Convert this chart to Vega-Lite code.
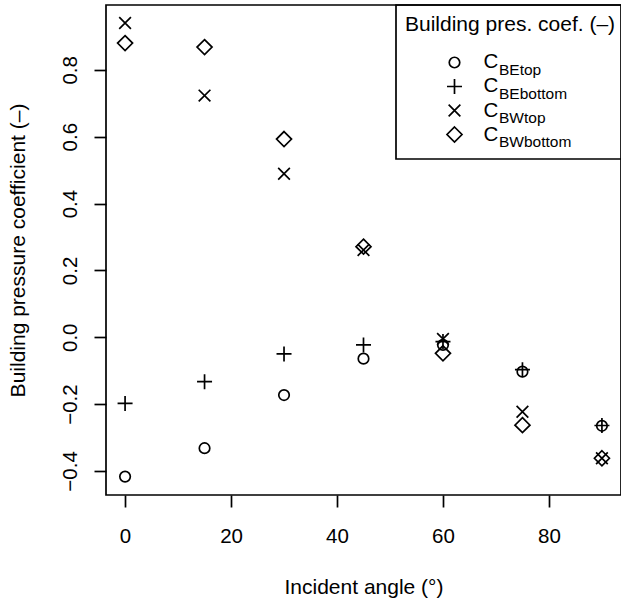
{
  "$schema": "https://vega.github.io/schema/vega-lite/v6.json",
  "width": 515,
  "height": 490,
  "autosize": {"type": "none"},
  "padding": {"left": 106, "top": 5, "right": 0, "bottom": 111},
  "background": "white",
  "config": {
    "font": "Liberation Sans",
    "view": {"stroke": "black", "strokeWidth": 1.7},
    "legend": {"strokeWidth": 1.7},
    "axis": {
      "grid": false,
      "domain": false,
      "tickColor": "black",
      "tickWidth": 1.7,
      "tickSize": 12,
      "labelColor": "black",
      "labelFontSize": 20.5,
      "titleColor": "black",
      "titleFontSize": 21,
      "titleFontWeight": "normal"
    }
  },
  "data": {
    "values": [
      {"angle": 0, "series": "BEtop", "value": -0.417},
      {"angle": 0, "series": "BEbottom", "value": -0.198},
      {"angle": 0, "series": "BWtop", "value": 0.940},
      {"angle": 0, "series": "BWbottom", "value": 0.880},
      {"angle": 15, "series": "BEtop", "value": -0.332},
      {"angle": 15, "series": "BEbottom", "value": -0.133},
      {"angle": 15, "series": "BWtop", "value": 0.723},
      {"angle": 15, "series": "BWbottom", "value": 0.868},
      {"angle": 30, "series": "BEtop", "value": -0.173},
      {"angle": 30, "series": "BEbottom", "value": -0.050},
      {"angle": 30, "series": "BWtop", "value": 0.489},
      {"angle": 30, "series": "BWbottom", "value": 0.593},
      {"angle": 45, "series": "BEtop", "value": -0.064},
      {"angle": 45, "series": "BEbottom", "value": -0.023},
      {"angle": 45, "series": "BWtop", "value": 0.261},
      {"angle": 45, "series": "BWbottom", "value": 0.271},
      {"angle": 60, "series": "BEtop", "value": -0.023},
      {"angle": 60, "series": "BEbottom", "value": -0.013},
      {"angle": 60, "series": "BWtop", "value": -0.005},
      {"angle": 60, "series": "BWbottom", "value": -0.048},
      {"angle": 75, "series": "BEtop", "value": -0.103},
      {"angle": 75, "series": "BEbottom", "value": -0.097},
      {"angle": 75, "series": "BWtop", "value": -0.223},
      {"angle": 75, "series": "BWbottom", "value": -0.263},
      {"angle": 90, "series": "BEtop", "value": -0.265},
      {"angle": 90, "series": "BEbottom", "value": -0.264},
      {"angle": 90, "series": "BWtop", "value": -0.362},
      {"angle": 90, "series": "BWbottom", "value": -0.362}
    ]
  },
  "mark": {"type": "point", "filled": false, "strokeWidth": 1.7, "size": 225, "opacity": 1},
  "encoding": {
    "x": {
      "field": "angle",
      "type": "quantitative",
      "scale": {"domain": [-3.6, 93.6], "nice": false, "zero": false},
      "axis": {
        "title": "Incident angle (°)",
        "values": [0, 20, 40, 60, 80],
        "labelPadding": 19,
        "titlePadding": 30
      }
    },
    "y": {
      "field": "value",
      "type": "quantitative",
      "scale": {"domain": [-0.472, 0.994], "nice": false, "zero": false},
      "axis": {
        "title": "Building pressure coefficient (–)",
        "values": [-0.4, -0.2, 0, 0.2, 0.4, 0.6, 0.8],
        "format": ".1f",
        "labelAngle": -90,
        "labelAlign": "center",
        "labelBaseline": "bottom",
        "labelPadding": 14,
        "titlePadding": 32
      }
    },
    "shape": {
      "field": "series",
      "type": "nominal",
      "scale": {
        "domain": ["BEtop", "BEbottom", "BWtop", "BWbottom"],
        "range": [
          "M0.7,0A0.7,0.7,0,1,1,-0.7,0A0.7,0.7,0,1,1,0.7,0Z",
          "M-1,0L1,0M0,-1L0,1",
          "M-0.78,-0.78L0.78,0.78M-0.78,0.78L0.78,-0.78",
          "M0,-1L1,0L0,1L-1,0Z"
        ]
      },
      "legend": {
        "orient": "none",
        "legendX": 290,
        "legendY": 0,
        "title": "Building pres. coef. (–)",
        "titleFontSize": 21,
        "titleFontWeight": "normal",
        "titleColor": "black",
        "titleLimit": 400,
        "titlePadding": 19,
        "padding": 9,
        "strokeColor": "black",
        "symbolSize": 225,
        "symbolStrokeColor": "black",
        "symbolStrokeWidth": 1.7,
        "symbolFillColor": "transparent",
        "symbolOffset": 41,
        "labelFontSize": 15.5,
        "labelBaseline": "top",
        "labelOffset": 36,
        "labelColor": "black",
        "rowPadding": -3
      }
    },
    "color": {
      "field": "series",
      "type": "nominal",
      "sort": ["BEtop", "BEbottom", "BWtop", "BWbottom"],
      "scale": {"range": ["black", "black", "black", "black"]},
      "legend": {
        "orient": "none",
        "legendX": 290,
        "legendY": 0,
        "title": "Building pres. coef. (–)",
        "titleFontSize": 21,
        "titleFontWeight": "normal",
        "titleColor": "transparent",
        "titleLimit": 400,
        "titlePadding": 17,
        "padding": 9,
        "symbolSize": 225,
        "symbolOpacity": 0,
        "symbolOffset": 41,
        "labelFontSize": 20.5,
        "labelExpr": "'C'",
        "labelOffset": 17,
        "labelColor": "black",
        "rowPadding": 3.2
      }
    }
  }
}
